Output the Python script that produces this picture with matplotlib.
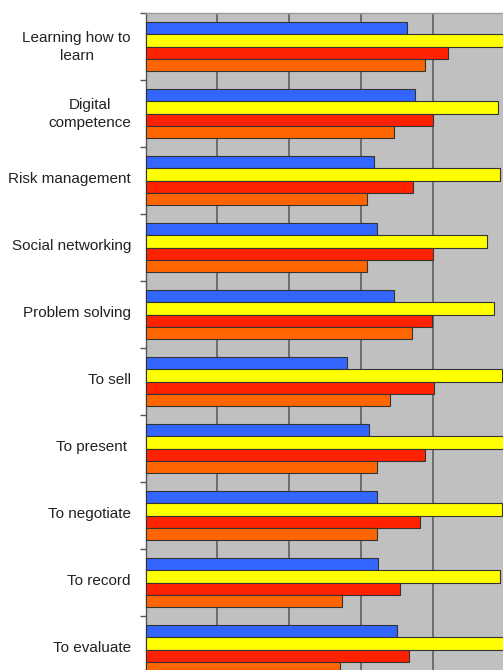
import matplotlib
matplotlib.use("Agg")
import matplotlib.pyplot as plt
import matplotlib.transforms as mtransforms
import numpy as np

categories = ["Learning how to\nlearn", "Digital\ncompetence", "Risk management",
              "Social networking", "Problem solving", "To sell", "To present ",
              "To negotiate", "To record", "To evaluate"]
blue   = [3.65, 3.75, 3.18, 3.23, 3.46, 2.81, 3.11, 3.23, 3.24, 3.50]
yellow = [5.00, 4.91, 4.94, 4.76, 4.86, 4.96, 5.00, 4.96, 4.94, 5.00]
red    = [4.22, 4.00, 3.72, 4.01, 3.99, 4.02, 3.89, 3.82, 3.55, 3.67]
orange = [3.89, 3.46, 3.08, 3.08, 3.71, 3.41, 3.23, 3.23, 2.74, 2.71]

series = [blue, yellow, red, orange]
colors = ["#3366FF", "#FFFF00", "#FF2200", "#FF6600"]

plt.rcParams['font.family'] = ['Liberation Sans', 'DejaVu Sans']

fig = plt.figure(figsize=(5.03, 6.70), dpi=100)
W, H = 503.0, 670.0
left_px, right_px, top_px, bot_px = 145.5, 504.4, 13.0, 683.0
ax = fig.add_axes([left_px / W, 1 - bot_px / H, (right_px - left_px) / W, (bot_px - top_px) / H])
ax.set_facecolor("#C0C0C0")

y = np.arange(len(categories))
h = 0.18
offsets = [-1.5 * h, -0.5 * h, 0.5 * h, 1.5 * h]
for vals, c, off in zip(series, colors, offsets):
    ax.barh(y + off, vals, height=h, color=c, edgecolor="#333333", linewidth=0.8, zorder=3)

ax.set_xlim(0, 5)
ax.set_ylim(len(categories) - 0.5, -0.5)
ax.set_xticks([1, 2, 3, 4])
ax.xaxis.grid(True, color="#555555", linewidth=1.1, zorder=1)
ax.tick_params(axis="x", length=0, labelbottom=False)

ax.set_yticks(y)
ax.set_yticklabels(categories, fontsize=11, color="#222222", multialignment="center",
                   linespacing=1.35)
ax.tick_params(axis="y", which="major", length=0, pad=10.5)
shift = mtransforms.ScaledTranslation(0, 3 / 100.0, fig.dpi_scale_trans)
for lab in ax.get_yticklabels():
    lab.set_transform(lab.get_transform() + shift)
ax.set_yticks(np.arange(-0.5, len(categories) + 0.5, 1), minor=True)
ax.tick_params(axis="y", which="minor", length=4, width=1, color="#555555", direction="out")

for s in ["right", "bottom"]:
    ax.spines[s].set_visible(False)
ax.spines["left"].set_color("#555555")
ax.spines["left"].set_linewidth(1)
ax.spines["top"].set_color("#9a9a9a")
ax.spines["top"].set_linewidth(1)

fig.savefig("out.png", dpi=100)
